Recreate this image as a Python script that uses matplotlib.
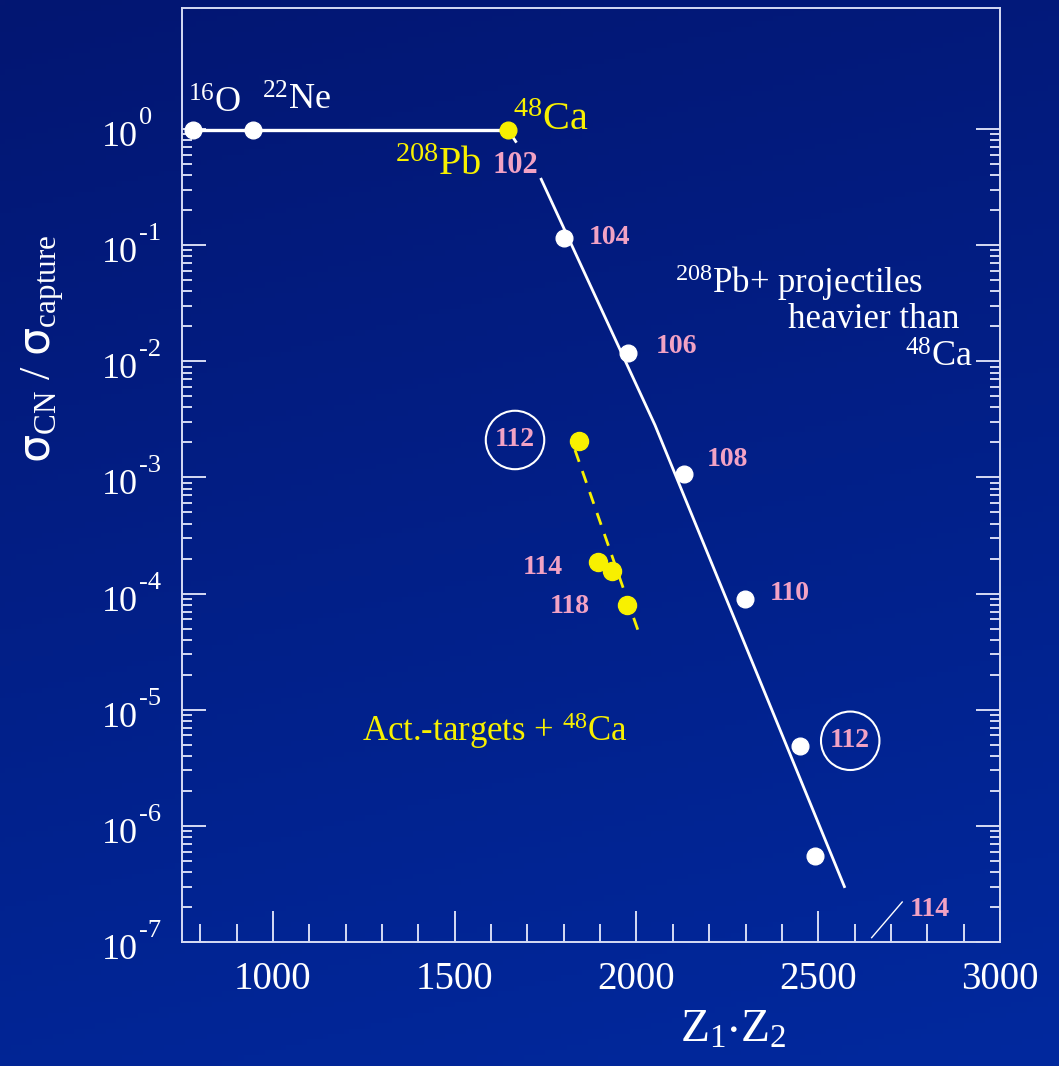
import numpy as np
import matplotlib
matplotlib.use('Agg')
import matplotlib.pyplot as plt
from matplotlib.ticker import FixedLocator, NullFormatter

plt.rcParams['font.family'] = 'Liberation Serif'
plt.rcParams['mathtext.fontset'] = 'custom'
plt.rcParams['mathtext.rm'] = 'Liberation Serif'
plt.rcParams['mathtext.it'] = 'Liberation Serif:italic'
plt.rcParams['mathtext.sf'] = 'DejaVu Sans'

# light projectiles on 208Pb (flat part)
light_z1z2 = [780, 945, 1647]
light_ratio = [0.98, 0.98, 0.98]
ca48_z1z2 = [1647]
ca48_ratio = [0.98]

# 208Pb + projectiles heavier than 48Ca
heavy_z1z2 = [1802, 1976, 2130, 2299, 2450, 2491]
heavy_ratio = [0.115, 0.0118, 1.08e-3, 8.9e-5, 4.85e-6, 5.5e-7]
heavy_labels = ['104', '106', '108', '110', '', '']
heavy_offsets = [(24, 1), (28, 6), (23, 14), (25, 6), (0, 0), (0, 0)]  # px

# systematics line for heavy projectiles
fit_z1z2 = [1738, 2051, 2572]
fit_ratio = [0.369, 2.82e-3, 3.0e-7]
stub_z1z2 = [1647, 1668]
stub_ratio = [0.98, 0.78]

# actinide targets + 48Ca
act_z1z2 = [1842, 1893, 1932, 1975]
act_ratio = [2.07e-3, 1.87e-4, 1.57e-4, 7.9e-5]
act_fit_z1z2 = [1831, 2011]
act_fit_ratio = [1.72e-3, 4.2e-5]

# pointer for 114 with 208Pb
ptr_z1z2 = [2647, 2731]
ptr_ratio = [1.09e-7, 2.21e-7]

decades = list(range(-7, 1))

W, H = 1059, 1066
PINK = '#f2a2c4'
YEL = '#f8f000'
FRAME = '#d6dbf4'

fig = plt.figure(figsize=(W / 100, H / 100), dpi=100)

# background gradient
bg = fig.add_axes([0, 0, 1, 1], zorder=-10)
yy, xx = np.mgrid[0:1:200j, 0:1:200j]
t = 0.8 * yy + 0.2 * xx
c_top = np.array([0x03, 0x16, 0x72]) / 255
c_bot = np.array([0x01, 0x29, 0x9e]) / 255
bg.imshow(c_top + (c_bot - c_top) * t[..., None], aspect='auto', extent=[0, 1, 1, 0])
bg.axis('off')

ax = fig.add_axes([182 / W, 1 - 942 / H, 818 / W, 934 / H])
ax.patch.set_alpha(0)
ax.set_yscale('log')
ax.set_xlim(750, 3000)
ax.set_ylim(1e-7, 11)

for s in ax.spines.values():
    s.set_color(FRAME)
    s.set_linewidth(1.4)

ax.xaxis.set_major_locator(FixedLocator([1000, 1500, 2000, 2500, 3000]))
ax.xaxis.set_minor_locator(FixedLocator(np.arange(800, 3000, 100)))
ax.yaxis.set_major_locator(FixedLocator([10.0 ** d for d in decades]))
ax.yaxis.set_minor_locator(FixedLocator([k * 10.0 ** d for d in decades[:-1] for k in range(2, 10)]))
ax.yaxis.set_major_formatter(NullFormatter())
ax.yaxis.set_minor_formatter(NullFormatter())
ax.tick_params(axis='x', which='major', direction='in', length=22, width=1.4, color=FRAME,
               labelsize=28, labelcolor='white', pad=14)
ax.tick_params(axis='x', which='minor', direction='in', length=13, width=1.4, color=FRAME)
ax.tick_params(axis='y', which='major', direction='in', length=17, width=1.4, color=FRAME,
               left=True, right=True)
ax.tick_params(axis='y', which='minor', direction='in', length=7, width=1.4, color=FRAME,
               left=True, right=True)

# y tick labels as 10 + raised exponent
ytr = ax.get_yaxis_transform()
for d in decades:
    ax.annotate('10', xy=(0, 10.0 ** d), xycoords=ytr, xytext=(-44 * 0.72, -17 * 0.72),
                textcoords='offset points', ha='right', va='baseline', color='white',
                fontsize=26, annotation_clip=False)
    ax.annotate(str(d), xy=(0, 10.0 ** d), xycoords=ytr, xytext=(-43 * 0.72, 5 * 0.72),
                textcoords='offset points', ha='left', va='baseline', color='white',
                fontsize=19, annotation_clip=False)

# lines
ax.plot(light_z1z2, light_ratio, color='white', lw=2.4, zorder=3)
ax.plot(stub_z1z2, stub_ratio, color='white', lw=2, zorder=3)
ax.plot(fit_z1z2, fit_ratio, color='white', lw=2, zorder=3)
ax.plot(act_fit_z1z2, act_fit_ratio, color=YEL, lw=2, dashes=(4.5, 3.5), zorder=3)
ax.plot(ptr_z1z2, ptr_ratio, color='white', lw=1, zorder=3)

# points
ax.plot(light_z1z2[:2], light_ratio[:2], 'o', color='white', ms=12, zorder=4)
ax.plot(ca48_z1z2, ca48_ratio, 'o', color=YEL, ms=12, zorder=4)
ax.plot(heavy_z1z2, heavy_ratio, 'o', color='white', ms=12, zorder=4)
ax.plot(act_z1z2, act_ratio, 'o', color=YEL, ms=13, zorder=4)

for x, y, lab, (dx, dy) in zip(heavy_z1z2, heavy_ratio, heavy_labels, heavy_offsets):
    if lab:
        ax.annotate(lab, (x, y), xytext=(dx * 0.72, dy * 0.72), textcoords='offset points',
                    ha='left', va='center', color=PINK, fontsize=20, fontweight='bold')

# circled 112 labels
circ = dict(boxstyle='circle,pad=0.33', fc='none', ec='white', lw=1.5)
ax.text(1666, 2.1e-3, '112', ha='center', va='center', color=PINK, fontsize=20,
        fontweight='bold', bbox=circ)
ax.text(2588, 5.4e-6, '112', ha='center', va='center', color=PINK, fontsize=20,
        fontweight='bold', bbox=circ)
ax.text(1798, 1.67e-4, '114', ha='right', va='center', color=PINK, fontsize=20, fontweight='bold')
ax.text(1872, 7.7e-5, '118', ha='right', va='center', color=PINK, fontsize=20, fontweight='bold')
ax.text(2752, 1.9e-7, '114', ha='left', va='center', color=PINK, fontsize=20, fontweight='bold')
ax.text(1605, 0.42, '102', ha='left', va='baseline', color=PINK, fontsize=22, fontweight='bold')

# nucleus labels
ax.text(766, 1.373, r'$\mathregular{^{16}O}$', color='white', fontsize=26, va='baseline')
ax.text(970, 1.458, r'$\mathregular{^{22}Ne}$', color='white', fontsize=26, va='baseline')
ax.text(1660, 0.98, r'$\mathregular{^{48}Ca}$', color=YEL, fontsize=29, va='baseline')
ax.text(1336, 0.40, r'$\mathregular{^{208}Pb}$', color=YEL, fontsize=29, va='baseline')
ax.text(2106, 0.0386, r'$\mathregular{^{208}Pb}$+ projectiles', color='white', fontsize=25,
        va='baseline')
ax.text(2417, 0.0194, 'heavier than', color='white', fontsize=25, va='baseline')
ax.text(2925, 8.9e-3, r'$\mathregular{^{48}Ca}$', color='white', fontsize=26, va='baseline',
        ha='right')
ax.text(1245, 5.4e-6, r'Act.-targets + $\mathregular{^{48}Ca}$', color=YEL, fontsize=25,
        va='baseline')

# axis titles
fig.text(733 / W, 1 - 1030 / H, r'$\mathregular{Z_1{\cdot}Z_2}$', color='white', fontsize=34,
         ha='center', va='center')
fig.text(43 / W, 1 - 349 / H, r'$\mathsf{σ}_{\mathrm{CN}}$ / $\mathsf{σ}_{\mathrm{capture}}$',
         color='white', fontsize=32, rotation=90, ha='center', va='center')

fig.savefig('out.png', dpi=100)
